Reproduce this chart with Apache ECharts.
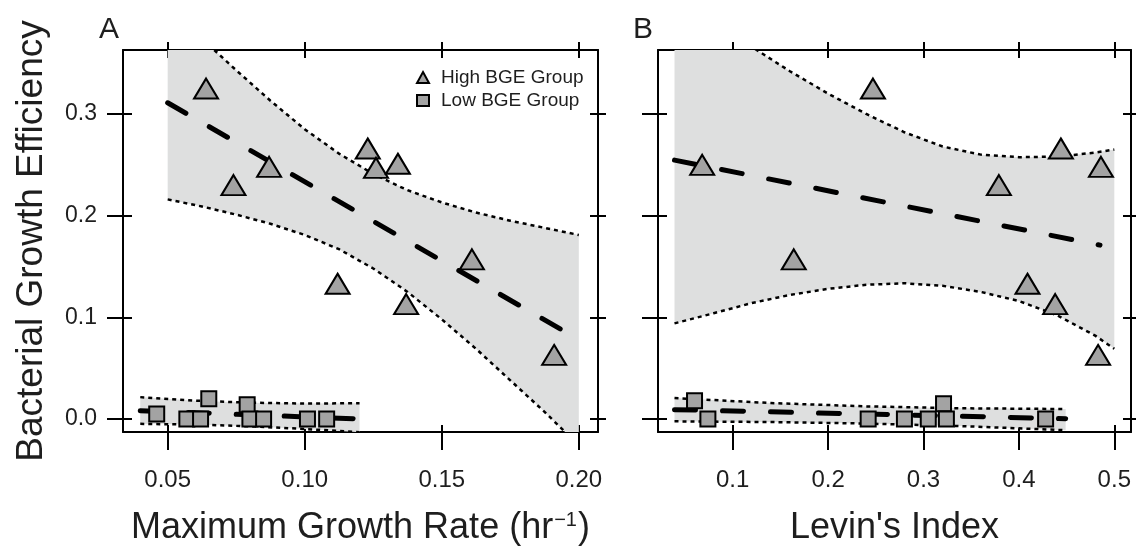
<!DOCTYPE html>
<html><head><meta charset="utf-8">
<script src="https://cdn.jsdelivr.net/npm/echarts@6/dist/echarts.min.js"></script>
<style>html,body{margin:0;padding:0;background:#fff}#c{width:1136px;height:554px}</style>
</head><body><div id="c"></div>
<script>
const FONT = '"Liberation Sans", Arial, Helvetica, sans-serif';
const TXT = '#1e1e1e';
const BAND = '#dedfdf';
const MARK = '#a3a3a3';

// ---- Panel A: Maximum growth rate ----
const highA_x = [0.064, 0.074, 0.087, 0.123, 0.126, 0.134, 0.112, 0.137, 0.161, 0.191];
const highA_y = [0.325, 0.230, 0.248, 0.266, 0.247, 0.251, 0.133, 0.113, 0.157, 0.063];
const lowA_x  = [0.046, 0.057, 0.062, 0.065, 0.079, 0.080, 0.085, 0.101, 0.108];
const lowA_y  = [0.005, 0.000, 0.000, 0.020, 0.014, 0.000, 0.000, 0.000, 0.000];

const bandA_hi_x  = [0.05, 0.0625, 0.075, 0.0875, 0.10, 0.1125, 0.125, 0.1375, 0.15, 0.1625, 0.175, 0.1875, 0.20];
const bandA_hi_up = [0.406, 0.374, 0.343, 0.313, 0.285, 0.261, 0.241, 0.225, 0.213, 0.203, 0.195, 0.188, 0.181];
const bandA_hi_lo = [0.216, 0.209, 0.201, 0.192, 0.181, 0.167, 0.148, 0.125, 0.098, 0.069, 0.038, 0.007, -0.026];
const fitA_hi_x = [0.05, 0.20];
const fitA_hi_y = [0.311, 0.078];

const bandA_lo_x  = [0.04, 0.06, 0.08, 0.10, 0.12];
const bandA_lo_up = [0.0215, 0.0180, 0.0160, 0.0152, 0.0155];
const bandA_lo_lo = [-0.0048, -0.0055, -0.0072, -0.0098, -0.0130];
const fitA_lo_x = [0.04, 0.12];
const fitA_lo_y = [0.0082, 0.0];

// ---- Panel B: Levin's index ----
const highB_x = [0.068, 0.247, 0.379, 0.444, 0.486, 0.164, 0.409, 0.438, 0.483];
const highB_y = [0.250, 0.325, 0.230, 0.266, 0.248, 0.157, 0.133, 0.113, 0.063];
const lowB_x  = [0.060, 0.074, 0.242, 0.280, 0.305, 0.321, 0.324, 0.428];
const lowB_y  = [0.018, 0.000, 0.000, 0.000, 0.000, 0.015, 0.000, 0.000];

const bandB_hi_x  = [0.039, 0.08, 0.12, 0.16, 0.20, 0.24, 0.28, 0.32, 0.36, 0.40, 0.44, 0.48, 0.50];
const bandB_hi_up = [0.415, 0.392, 0.366, 0.342, 0.320, 0.300, 0.282, 0.268, 0.260, 0.2575, 0.258, 0.262, 0.265];
const bandB_hi_lo = [0.094, 0.104, 0.114, 0.122, 0.128, 0.132, 0.1335, 0.131, 0.125, 0.116, 0.102, 0.082, 0.069];
const fitB_hi_x = [0.039, 0.485];
const fitB_hi_y = [0.2546, 0.171];

const bandB_lo_x  = [0.039, 0.14, 0.24, 0.34, 0.449];
const bandB_lo_up = [0.0206, 0.0157, 0.0124, 0.0105, 0.0098];
const bandB_lo_lo = [-0.0023, -0.0030, -0.0045, -0.0070, -0.0110];
const fitB_lo_x = [0.039, 0.449];
const fitB_lo_y = [0.0092, 0.0003];

// ---- Axes ----
const ticksA_x = [0.05, 0.10, 0.15, 0.20];
const ticksB_x = [0.1, 0.2, 0.3, 0.4, 0.5];
const ticks_y  = [0.0, 0.1, 0.2, 0.3];
const rangeA_x = [0.0337, 0.2070];
const rangeB_x = [0.0217, 0.5175];
const range_y  = [-0.0128, 0.3629];

const xTitleA = '{a|Maximum Growth Rate (hr}{s|−1}{a|)}';
const xTitleB = "Levin's Index";
const yTitle  = 'Bacterial Growth Efficiency';
const legendNames = ['High BGE Group', 'Low BGE Group'];

const LINE = { color: '#000', width: 2 };

function axisSet(kind, g, range, ticks, fmt, labelMargin, name, nameOpts) {
  const posA = kind === 'x' ? 'bottom' : 'left';
  const posB = kind === 'x' ? 'top' : 'right';
  const outLen = kind === 'x' ? 18 : 16;
  const inLen = kind === 'x' ? 7 : 9;
  const base = { type: 'value', gridIndex: g, min: range[0], max: range[1], splitLine: { show: false } };
  const main = Object.assign({}, base, {
    position: posA,
    axisLine: { show: true, onZero: false, lineStyle: LINE },
    axisTick: { show: true, inside: false, length: outLen, customValues: ticks, lineStyle: LINE },
    axisLabel: fmt ? { show: true, customValues: ticks, formatter: fmt, margin: labelMargin,
      fontSize: kind === 'x' ? 24 : 23, fontFamily: FONT, color: TXT } : { show: false }
  });
  if (name) Object.assign(main, { name: name }, nameOpts);
  const mainIn = Object.assign({}, base, {
    position: posA, axisLine: { show: false, onZero: false },
    axisTick: { show: true, inside: true, length: inLen, customValues: ticks, lineStyle: LINE },
    axisLabel: { show: false }
  });
  const opp = Object.assign({}, base, {
    position: posB, axisLine: { show: true, onZero: false, lineStyle: LINE },
    axisTick: { show: true, inside: false, length: 8, customValues: ticks, lineStyle: LINE },
    axisLabel: { show: false }
  });
  const oppIn = Object.assign({}, base, {
    position: posB, axisLine: { show: false, onZero: false },
    axisTick: { show: true, inside: true, length: 8, customValues: ticks, lineStyle: LINE },
    axisLabel: { show: false }
  });
  return [main, mainIn, opp, oppIn];
}

const xNameCommon = {
  nameLocation: 'middle', nameGap: 78,
  nameTextStyle: { fontSize: 36, fontFamily: FONT, color: TXT,
    rich: { a: { fontSize: 36, fontFamily: FONT, color: TXT },
            s: { fontSize: 20, fontFamily: FONT, color: TXT, verticalAlign: 'top', padding: [0, 1, 0, 1] } } }
};

const xAxes = []
  .concat(axisSet('x', 0, rangeA_x, ticksA_x, v => v.toFixed(2), 36, xTitleA, xNameCommon))
  .concat(axisSet('x', 1, rangeB_x, ticksB_x, v => v.toFixed(1), 36, xTitleB,
    { nameLocation: 'middle', nameGap: 78, nameTextStyle: { fontSize: 36, fontFamily: FONT, color: TXT } }));
const yAxes = []
  .concat(axisSet('y', 0, range_y, ticks_y, v => v.toFixed(1), 26, yTitle,
    { nameLocation: 'middle', nameGap: 73, nameRotate: 90, nameTextStyle: { fontSize: 37, fontFamily: FONT, color: TXT } }))
  .concat(axisSet('y', 1, range_y, ticks_y, null, 0, null, null));

function pairs(xs, ys) { return xs.map((x, i) => [x, ys[i]]); }

// Confidence band: filled polygon + dotted bounds, positioned through the axes via api.coord
function bandSeries(id, ax, xs, lo, up) {
  return {
    type: 'custom', name: id + '_band', xAxisIndex: ax, yAxisIndex: ax, silent: true, z: 1, clip: true,
    data: [[xs[0], lo[0]]],
    renderItem: function (params, api) {
      const upPts = xs.map((x, i) => api.coord([x, up[i]]));
      const loPts = xs.map((x, i) => api.coord([x, lo[i]]));
      const cs = params.coordSys;
      const dash = { stroke: '#000', lineWidth: 2.5, lineDash: [4, 4], fill: null };
      return {
        type: 'group',
        clipPath: { type: 'rect', shape: { x: cs.x, y: cs.y, width: cs.width, height: cs.height } },
        children: [
          { type: 'polygon', shape: { points: upPts.concat(loPts.slice().reverse()) }, style: { fill: BAND, stroke: null } },
          { type: 'polyline', shape: { points: loPts }, style: dash },
          { type: 'polyline', shape: { points: upPts }, style: dash }
        ]
      };
    }
  };
}
function fitSeries(id, ax, xs, ys) {
  return { type: 'line', name: id + '_fit', xAxisIndex: ax, yAxisIndex: ax, symbol: 'none', silent: true, z: 3,
    data: pairs(xs, ys), lineStyle: { color: '#000', width: 5, type: [21, 27], cap: 'round' } };
}
function scatter(name, ax, xs, ys, symbol, size) {
  return { type: 'scatter', name: name, xAxisIndex: ax, yAxisIndex: ax, symbol: symbol, symbolSize: size, z: 4,
    data: pairs(xs, ys), itemStyle: { color: MARK, borderColor: '#000', borderWidth: 2, opacity: 1 } };
}

const series = [
  bandSeries('Ahi', 0, bandA_hi_x, bandA_hi_lo, bandA_hi_up),
  bandSeries('Alo', 0, bandA_lo_x, bandA_lo_lo, bandA_lo_up),
  bandSeries('Bhi', 4, bandB_hi_x, bandB_hi_lo, bandB_hi_up),
  bandSeries('Blo', 4, bandB_lo_x, bandB_lo_lo, bandB_lo_up),
  fitSeries('Ahi', 0, fitA_hi_x, fitA_hi_y),
  fitSeries('Alo', 0, fitA_lo_x, fitA_lo_y),
  fitSeries('Bhi', 4, fitB_hi_x, fitB_hi_y),
  fitSeries('Blo', 4, fitB_lo_x, fitB_lo_y),
  scatter(legendNames[1], 0, lowA_x, lowA_y, 'rect', 15),
  scatter(legendNames[0], 0, highA_x, highA_y, 'triangle', [24, 20]),
  scatter(legendNames[1], 4, lowB_x, lowB_y, 'rect', 15),
  scatter(legendNames[0], 4, highB_x, highB_y, 'triangle', [24, 20])
];

const chart = echarts.init(document.getElementById('c'), null, { renderer: 'canvas' });
chart.setOption({
  animation: false,
  backgroundColor: '#fff',
  title: [
    { text: 'A', left: 94, top: 10, textStyle: { fontSize: 30, fontWeight: 'normal', fontFamily: FONT, color: TXT } },
    { text: 'B', left: 628, top: 10, textStyle: { fontSize: 30, fontWeight: 'normal', fontFamily: FONT, color: TXT } }
  ],
  legend: {
    data: [{ name: legendNames[0], icon: 'triangle' }, { name: legendNames[1], icon: 'rect' }],
    orient: 'vertical', left: 411, top: 63, itemWidth: 12, itemHeight: 11, itemGap: 4,
    selectedMode: false,
    textStyle: { fontSize: 19, fontFamily: FONT, color: TXT, padding: [0, 0, 0, 7] }
  },
  grid: [
    { left: 123, top: 50, width: 475, height: 382 },
    { left: 658, top: 50, width: 473, height: 382 }
  ],
  xAxis: xAxes,
  yAxis: yAxes,
  series: series
});
</script></body></html>
